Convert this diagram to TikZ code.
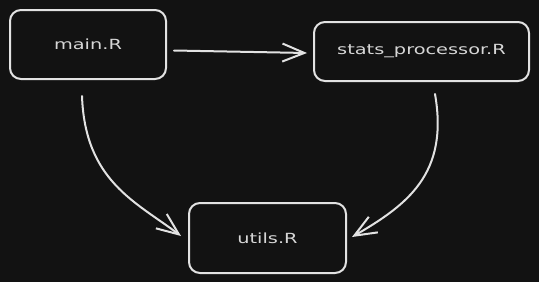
\documentclass[tikz,border=0pt]{standalone}
\usepackage{fontspec}
\setmainfont{DejaVu Sans}[FakeStretch=1.38]
\usetikzlibrary{arrows.meta}
\definecolor{canvas}{HTML}{121212}
\definecolor{ink}{HTML}{E2E2E2}
\definecolor{label}{HTML}{D6D6D6}
\tikzset{
  file/.style={draw=ink, line width=2pt, rounded corners=11pt,
    text=label, font=\fontsize{14}{16}\selectfont, inner sep=0pt},
  link/.style={draw=ink, line width=2pt, line cap=round,
    -{Straight Barb[length=22pt,width=18pt,line width=2pt]}},
}
\begin{document}
\begin{tikzpicture}[x=1pt,y=-1pt]
  \fill[canvas] (0,0) rectangle (539,282);
  \useasboundingbox (0,0) rectangle (539,282);

  \node[file, minimum width=156pt, minimum height=69pt] (main)  at (88,44.5)   {main.R};
  \node[file, minimum width=215pt, minimum height=59pt] (stats) at (421.5,51.5) {stats\_processor.R};
  \node[file, minimum width=157pt, minimum height=70pt] (utils) at (267.5,238)  {utils.R};

  \draw[link] ([shift={(7,6)}]main.east) -- ([shift={(-6,1.5)}]stats.west);
  \draw[link] ([shift={(-6,16)}]main.south)
      .. controls +(3,85) and +(-45,-34) .. ([shift={(-7,-2)}]utils.west);
  \draw[link] ([shift={(13.5,12)}]stats.south)
      .. controls +(14,80) and +(55,-32) .. ([shift={(5,-1)}]utils.east);
\end{tikzpicture}
\end{document}
